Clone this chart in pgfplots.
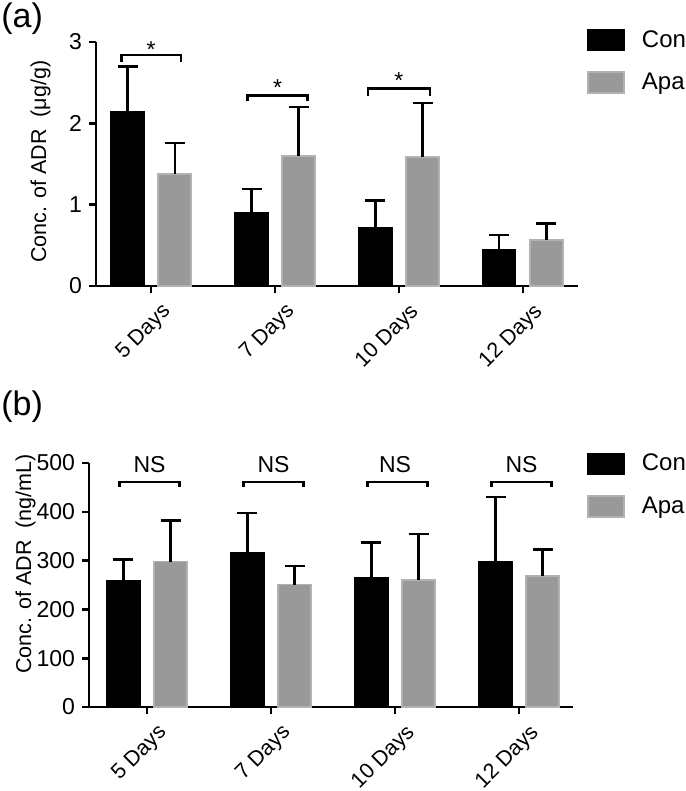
\documentclass[border=0pt]{standalone}
\usepackage{pgfplots}
\pgfplotsset{compat=1.18}
\usepackage{fontspec}
\setmainfont{Liberation Sans}
\definecolor{apagray}{RGB}{153,153,153}
\definecolor{apaedge}{RGB}{178,178,178}
\newcommand{\tickfont}{\fontsize{11.5}{13}\selectfont}
\newcommand{\xlabfont}{\fontsize{10.75}{13}\selectfont}
\newcommand{\ylabfont}{\fontsize{10.75}{12}\selectfont}
\newcommand{\legfont}{\fontsize{12}{14}\selectfont}
\pgfplotsset{
  panel/.style={
    scale only axis, height=122pt,
    axis lines=left, axis line style={line width=1.3pt, -},
    tick align=outside, major tick length=3.5pt,
    tick style={line width=1.3pt, black},
    xtick={0,1,2,3},
    xticklabels={5 Days,7 Days,10 Days,12 Days},
    xticklabel style={rotate=45, anchor=north east, font=\xlabfont, inner sep=1pt, xshift=1.4pt, yshift=-5.3pt},
    yticklabel style={font=\tickfont},
    /pgf/number format/assume math mode=true,
    ylabel style={font=\ylabfont, anchor=center},
    clip=false,
    legend style={draw=none, fill=none, anchor=north west, inner sep=0pt, outer sep=0pt,
      row sep=10pt, font=\legfont, nodes={inner sep=0pt},
      /tikz/every odd column/.append style={column sep=8.5pt}},
    legend cell align=left,
  },
  conbar/.style={ybar, bar width=16.5pt, bar shift=0pt, fill=black, draw=black, line width=0.6pt,
    legend image code/.code={\draw[fill=black,draw=black] (0pt,-5.25pt) rectangle (18pt,5.25pt);},
    error bars/.cd, y dir=plus, y explicit,
    error bar style={line width=1.15pt, black},
    error mark options={rotate=90, mark size=5pt, line width=1.15pt, black}},
  apabar/.style={ybar, bar width=16.5pt, bar shift=0pt, fill=apagray, draw=apaedge, line width=0.9pt,
    legend image code/.code={\draw[fill=apagray,draw=apaedge,line width=0.9pt] (0pt,-5.25pt) rectangle (18pt,5.25pt);},
    error bars/.cd, y dir=plus, y explicit,
    error bar style={line width=1.15pt, black},
    error mark options={rotate=90, mark size=5pt, line width=1.15pt, black}},
  brk/.style={sharp plot, black, line width=1.3pt, mark=none, forget plot},
}
\begin{document}
\begin{tikzpicture}
\path[use as bounding box] (0,0) rectangle (342.5pt,395.5pt);
\node[anchor=west, font=\fontsize{17}{18}\selectfont, inner sep=0pt] at (0.5pt,386pt) {(a)};
\node[anchor=west, font=\fontsize{17}{18}\selectfont, inner sep=0pt] at (0.5pt,192pt) {(b)};
% Panel (a)
\begin{axis}[panel, at={(48pt,252.5pt)}, anchor=south west, width=241pt,
  xmin=-0.445, xmax=3.445, ymin=0, ymax=3, ytick={0,1,2,3},
  ylabel={Conc. of ADR\ \ (μg/g)},
  ylabel style={at={(rel axis cs:-0.115,0.51)}},
  legend style={at={(rel axis cs:1.019,1.053)}}]
\addplot[conbar] table[x=x, y=y, y error=e] {
x y e
-0.19 2.14 0.56
0.81 0.90 0.29
1.81 0.72 0.33
2.81 0.45 0.18
};
\addlegendentry{Con}
\addplot[apabar] table[x=x, y=y, y error=e] {
x y e
0.19 1.38 0.375
1.19 1.60 0.60
2.19 1.59 0.66
3.19 0.57 0.20
};
\addlegendentry{Apa}
\addplot[brk] coordinates {(-0.24,2.755) (-0.24,2.84) (0.24,2.84) (0.24,2.755)};
\addplot[brk] coordinates {(0.78,2.27) (0.78,2.34) (1.26,2.34) (1.26,2.27)};
\addplot[brk] coordinates {(1.75,2.33) (1.75,2.43) (2.25,2.43) (2.25,2.33)};
\node[anchor=base, font=\tickfont, inner sep=0pt] at (axis cs:0,2.81) {*};
\node[anchor=base, font=\tickfont, inner sep=0pt] at (axis cs:1.02,2.34) {*};
\node[anchor=base, font=\tickfont, inner sep=0pt] at (axis cs:2,2.43) {*};
\end{axis}
% Panel (b)
\begin{axis}[panel, at={(44.5pt,42pt)}, anchor=south west, width=242pt,
  xmin=-0.468, xmax=3.435, ymin=0, ymax=500, ytick={0,100,200,300,400,500},
  ylabel={Conc. of ADR\ \ (ng/mL)},
  ylabel style={at={(rel axis cs:-0.131,0.586)}},
  legend style={at={(rel axis cs:1.029,1.041)}}]
\addplot[conbar] table[x=x, y=y, y error=e] {
x y e
-0.19 258 44
0.81 317 80
1.81 266 71
2.81 297 133
};
\addlegendentry{Con}
\addplot[apabar] table[x=x, y=y, y error=e] {
x y e
0.19 298 84
1.19 251 38
2.19 260 95
3.19 269 54
};
\addlegendentry{Apa}
\addplot[brk] coordinates {(-0.22,451) (-0.22,461) (0.26,461) (0.26,451)};
\addplot[brk] coordinates {(0.78,451) (0.78,461) (1.26,461) (1.26,451)};
\addplot[brk] coordinates {(1.78,451) (1.78,461) (2.26,461) (2.26,451)};
\addplot[brk] coordinates {(2.78,451) (2.78,461) (3.26,461) (3.26,451)};
\node[anchor=base, font=\tickfont, inner sep=0pt] at (axis cs:0.02,480) {NS};
\node[anchor=base, font=\tickfont, inner sep=0pt] at (axis cs:1.02,480) {NS};
\node[anchor=base, font=\tickfont, inner sep=0pt] at (axis cs:2.0,480) {NS};
\node[anchor=base, font=\tickfont, inner sep=0pt] at (axis cs:3.02,480) {NS};
\end{axis}
\end{tikzpicture}
\end{document}
